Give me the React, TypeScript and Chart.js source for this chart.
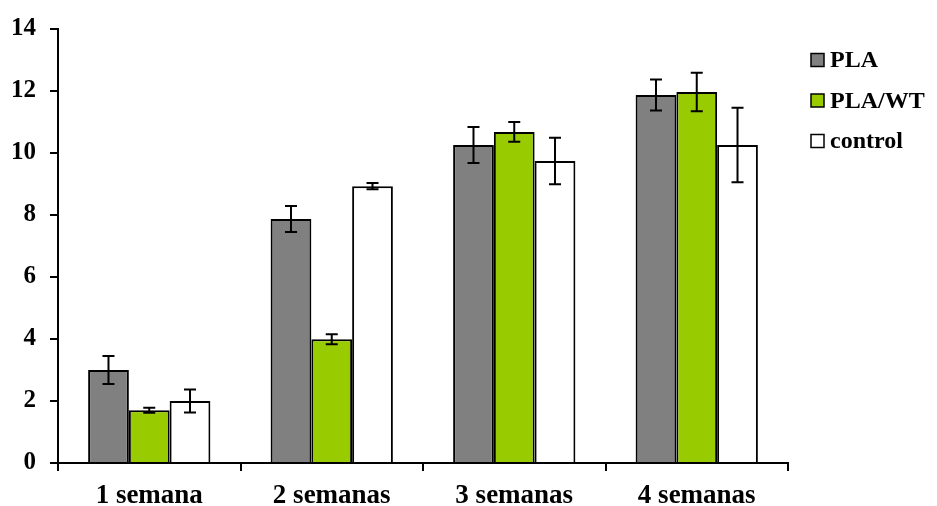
import React, { useEffect, useRef } from "react";
import { Chart, registerables } from "chart.js";

Chart.register(...registerables);

// Weekly measurements per material, with standard deviations
const categories = ["1 semana", "2 semanas", "3 semanas", "4 semanas"];
const seriesLabels = ["PLA", "PLA/WT", "control"];
const plaValues = [3.0, 7.87, 10.26, 11.87];
const plaErrors = [0.45, 0.42, 0.58, 0.5];
const plaWtValues = [1.7, 3.99, 10.68, 11.97];
const plaWtErrors = [0.08, 0.16, 0.32, 0.62];
const controlValues = [2.0, 8.93, 9.74, 10.26];
const controlErrors = [0.37, 0.1, 0.75, 1.2];
const yMin = 0;
const yMax = 14;
const yStep = 2;

const seriesColors = ["#808080", "#99CC00", "#FFFFFF"];
const FONT_FAMILY = "'Liberation Serif', 'Times New Roman', serif";

const errorBarPlugin = {
  id: "errorBars",
  afterDatasetsDraw(chart: any) {
    const ctx = chart.ctx;
    const yScale = chart.scales.y;
    ctx.save();
    ctx.strokeStyle = "#000";
    ctx.lineWidth = 2;
    chart.data.datasets.forEach((ds: any, i: number) => {
      const meta = chart.getDatasetMeta(i);
      meta.data.forEach((bar: any, j: number) => {
        const v = ds.data[j];
        const e = ds.errors[j];
        const x = bar.x;
        const yHi = yScale.getPixelForValue(v + e);
        const yLo = yScale.getPixelForValue(v - e);
        const cap = 6;
        ctx.beginPath();
        ctx.moveTo(x, yHi);
        ctx.lineTo(x, yLo);
        ctx.moveTo(x - cap, yHi);
        ctx.lineTo(x + cap, yHi);
        ctx.moveTo(x - cap, yLo);
        ctx.lineTo(x + cap, yLo);
        ctx.stroke();
      });
    });
    ctx.restore();
  },
};

const sideLegendPlugin = {
  id: "sideLegend",
  afterDraw(chart: any) {
    const ctx = chart.ctx;
    const left = chart.chartArea.right + 23;
    const top = 60;
    const gap = 40.5;
    const box = 13;
    ctx.save();
    ctx.font = `bold 24px ${FONT_FAMILY}`;
    ctx.textBaseline = "middle";
    ctx.textAlign = "left";
    chart.data.datasets.forEach((ds: any, i: number) => {
      const cy = top + i * gap;
      ctx.fillStyle = ds.backgroundColor;
      ctx.fillRect(left, cy - box / 2, box, box);
      ctx.strokeStyle = "#000";
      ctx.lineWidth = 1.5;
      ctx.strokeRect(left, cy - box / 2, box, box);
      ctx.fillStyle = "#000";
      ctx.fillText(ds.label, left + box + 6, cy + 1);
    });
    ctx.restore();
  },
};

export default function App() {
  const canvasRef = useRef<HTMLCanvasElement | null>(null);

  useEffect(() => {
    const canvas = canvasRef.current;
    if (!canvas) return;
    const values = [plaValues, plaWtValues, controlValues];
    const errors = [plaErrors, plaWtErrors, controlErrors];

    const chart = new Chart(canvas, {
      type: "bar",
      data: {
        labels: categories,
        datasets: seriesLabels.map((label, i) => ({
          label,
          data: values[i],
          errors: errors[i],
          backgroundColor: seriesColors[i],
          borderColor: "#000",
          borderWidth: 2,
          categoryPercentage: 0.67,
          barPercentage: 1.0,
        })) as any,
      },
      options: {
        responsive: false,
        devicePixelRatio: 1,
        animation: false,
        layout: { padding: { top: 23, right: 149, left: 0, bottom: 0 } },
        plugins: {
          legend: { display: false },
          tooltip: { enabled: false },
        },
        scales: {
          x: {
            grid: {
              display: true,
              drawOnChartArea: false,
              drawTicks: true,
              tickLength: 8,
              color: "#000",
              lineWidth: 2,
              offset: true,
            },
            border: { display: true, color: "#000", width: 2 },
            ticks: {
              color: "#000",
              font: { family: FONT_FAMILY, size: 27, weight: "bold" },
              padding: 9,
              maxRotation: 0,
            },
            afterFit(scale: any) {
              scale.height = 43;
            },
          },
          y: {
            min: yMin,
            max: yMax,
            grid: {
              display: true,
              drawOnChartArea: false,
              drawTicks: true,
              tickLength: 8,
              color: "#000",
              lineWidth: 2,
            },
            border: { display: true, color: "#000", width: 2 },
            ticks: {
              stepSize: yStep,
              color: "#000",
              font: { family: FONT_FAMILY, size: 25, weight: "bold" },
              padding: 14,
            },
            afterFit(scale: any) {
              scale.width = 58;
            },
          },
        },
      },
      plugins: [errorBarPlugin, sideLegendPlugin],
    });

    return () => chart.destroy();
  }, []);

  return (
    <div style={{ position: "absolute", left: 0, top: 0, width: 937, height: 506, background: "#fff" }}>
      <canvas ref={canvasRef} width={937} height={506} style={{ display: "block" }} />
    </div>
  );
}
